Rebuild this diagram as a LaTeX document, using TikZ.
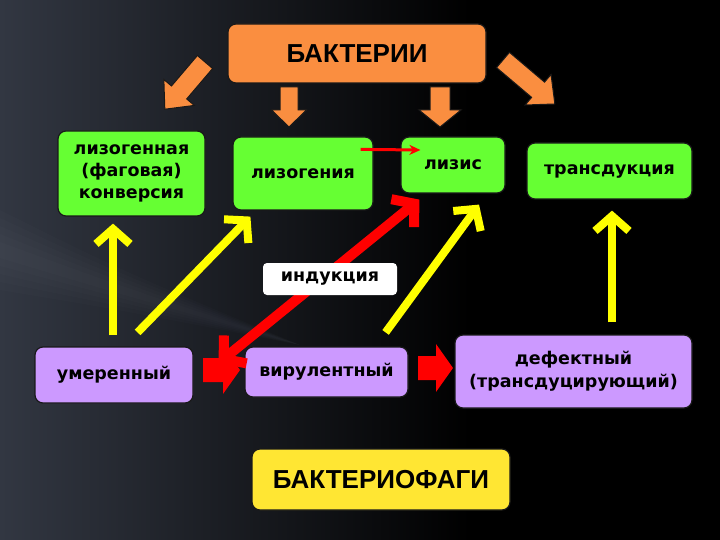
\documentclass[tikz,border=0pt]{standalone}
\usepackage{fontspec}
\setmainfont{DejaVu Sans}
\newfontfamily\arialfont{Liberation Sans}
\usetikzlibrary{arrows.meta,calc,shadings}
\definecolor{grn}{RGB}{102,255,51}
\definecolor{prp}{RGB}{204,153,255}
\definecolor{org}{RGB}{250,142,64}
\definecolor{ylw}{RGB}{255,230,51}
\definecolor{yarr}{RGB}{255,255,0}
\definecolor{rred}{RGB}{255,0,0}
\definecolor{edge}{RGB}{25,25,25}
\definecolor{bgul}{RGB}{50,55,66}
\definecolor{streak}{RGB}{150,155,170}
\newcommand\blkarr[7]{%
  \begin{scope}[shift={#2},rotate=#3]
    \path[#1] (0,-#5) -- (#4-#7,-#5) -- (#4-#7,-#6) -- (#4,0) -- (#4-#7,#6) -- (#4-#7,#5) -- (0,#5) -- cycle;
  \end{scope}}
\begin{document}
\begin{tikzpicture}[x=1pt,y=-1pt,
  box/.style={rounded corners=8pt, draw=edge, line width=1.2pt, inner sep=0pt, align=center, text=black},
  gbox/.style={box, fill=grn, font=\bfseries\fontsize{17.5}{22}\selectfont},
  pbox/.style={box, fill=prp, font=\bfseries\fontsize{17.5}{23}\selectfont},
  ybar/.style={draw=yarr, line width=8pt, -{Straight Barb[length=15pt,width=34pt]}},
  rdbl/.style={draw=rred, line width=10pt, {Straight Barb[length=15pt,width=36pt]}-{Straight Barb[length=15pt,width=36pt]}},
  rthin/.style={draw=rred, line width=3pt, -{Stealth[length=11pt,width=10pt]}},
  oarr/.style={fill=org, draw=edge, line width=1pt},
  rarr/.style={fill=rred}]
\useasboundingbox (0,0) rectangle (720,540);
\fill[black] (0,0) rectangle (720,540);
\shade[left color=bgul, right color=black] (0,0) rectangle (470,540);
\foreach \w in {8,16,24,32,40}{
  \fill[streak, opacity=0.025] (0,250-\w) .. controls (120,290-\w/2) .. (300,345) .. controls (120,290+\w/2) .. (0,250+\w) -- cycle;}

% nodes
\node[box, fill=org, minimum width=258pt, minimum height=59pt, font=\arialfont\bfseries\fontsize{26}{28}\selectfont] (bak) at (357,53.5) {БАКТЕРИИ};
\node[gbox, minimum width=147pt, minimum height=85pt] (lgc) at (131.5,173.5) {лизогенная\\(фаговая)\\конверсия};
\node[gbox, minimum width=140pt, minimum height=73pt] (lg) at (303,173.5) {лизогения};
\node[gbox, minimum width=104pt, minimum height=56pt] (lys) at (453,165) {лизис};
\node[gbox, minimum width=165pt, minimum height=56pt] (trd) at (609.5,171) {трансдукция};
\node[pbox, minimum width=158pt, minimum height=56pt] (um) at (114,375) {умеренный};
\node[pbox, minimum width=163pt, minimum height=50pt] (vir) at (326.5,372) {вирулентный};
\node[pbox, minimum width=237pt, minimum height=73pt] (def) at (573.5,371.5) {дефектный\\(трансдуцирующий)};
\node[box, fill=ylw, minimum width=258pt, minimum height=61pt, font=\arialfont\bfseries\fontsize{26}{28}\selectfont] (phg) at (381,479.5) {БАКТЕРИОФАГИ};

% orange block arrows
\blkarr{oarr}{(205,62)}{-130.4}{62}{10}{20}{22}
\blkarr{oarr}{(289,87)}{-90}{40}{9}{17.5}{17}
\blkarr{oarr}{(440,87)}{-90}{40}{10}{21}{17}
\blkarr{oarr}{(503,60)}{-40.3}{68}{10}{20}{22}

% red thin arrow
\draw[rthin] ($(lg.north east)+(-13,13)$) -- ($(lys.west)+(20,-15)$);

% red double arrow
\draw[rdbl] ($(um.east)+(25,-12)$) -- ($(lys.south west)+(19,6)$);

% red block arrows
\blkarr{rarr}{(203,370)}{0}{37}{12}{24}{17}
\blkarr{rarr}{(418,368)}{0}{35}{12}{24}{17}

% white label box
\node[box, draw=none, fill=white, rounded corners=4pt, minimum width=134pt, minimum height=32pt, font=\bfseries\fontsize{17.5}{20}\selectfont] (ind) at (330,279) {индукция};

% yellow arrows
\draw[ybar] ($(um.north)+(-1,-11)$) -- ($(um.north |- lgc.south)+(-1,7)$);
\draw[ybar] ($(um.north east)+(-56,-14)$) -- ($(lg.south west)+(18,6)$);
\draw[ybar] ($(vir.north east)+(-23,-14)$) -- ($(lys.south)+(26,11)$);
\draw[ybar] ($(def.north)+(38.5,-12)$) -- ($(def.north |- trd.south)+(38.5,11)$);
\end{tikzpicture}
\end{document}
